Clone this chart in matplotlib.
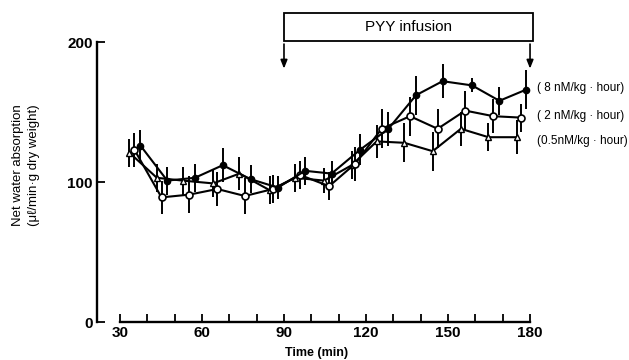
import numpy as np
import matplotlib.pyplot as plt

plt.rcParams['font.family'] = ['Liberation Sans', 'DejaVu Sans']

# 8 nM/kg.hour (filled circles)
t_8 = [37.5, 47.3, 57.4, 67.6, 77.8, 87.8, 97.7, 107.4, 117.8, 128.2, 138.3, 148.0, 158.8, 168.8, 178.6]
y_8 = [126, 101, 103, 112, 102, 96, 108, 106, 123, 138, 162, 172, 169, 158, 166]
e_8 = [11, 10, 10, 12, 10, 8, 10, 9, 11, 12, 14, 12, 5, 10, 14]

# 2 nM/kg.hour (open circles)
t_2 = [35.3, 45.2, 55.4, 65.6, 75.7, 86.0, 95.9, 106.5, 116.0, 125.7, 136.1, 146.2, 156.3, 166.6, 176.6]
y_2 = [123, 89, 91, 95, 90, 95, 105, 97, 113, 138, 147, 138, 151, 147, 146]
e_2 = [12, 12, 13, 12, 13, 10, 10, 10, 12, 14, 14, 14, 14, 12, 10]

# 0.5 nM/kg.hour (open triangles)
t_05 = [33.4, 43.5, 52.9, 64.1, 73.7, 84.9, 94.0, 104.7, 114.8, 123.9, 134.0, 144.4, 154.7, 164.8, 175.2]
y_05 = [121, 103, 101, 99, 106, 94, 103, 101, 112, 129, 128, 122, 138, 132, 132]
e_05 = [10, 10, 10, 10, 12, 10, 10, 9, 10, 12, 14, 14, 12, 10, 12]

dose_labels = ['( 8 nM/kg · hour)', '( 2 nM/kg · hour)', '(0.5nM/kg · hour)']
infusion = (90, 180)

fig = plt.figure(figsize=(6.29, 3.6), dpi=100)
ax = fig.add_axes([97/629, 38/360, 438.5/629, 313.6/360])

kw = dict(color='black', lw=1.5, elinewidth=1.4, capsize=0)
ax.errorbar(t_05, y_05, yerr=e_05, marker='^', ms=4, mfc='white', mec='black', mew=1.0, **kw)
ax.errorbar(t_2, y_2, yerr=e_2, marker='o', ms=5, mfc='white', mec='black', mew=1.2, **kw)
ax.errorbar(t_8, y_8, yerr=e_8, marker='o', ms=4.5, mfc='black', mec='black', **kw)

ax.set_xlim(21.6, 182)
ax.set_ylim(0, 224)
for s in ['top', 'right']:
    ax.spines[s].set_visible(False)
ax.spines['left'].set_bounds(0, 200)
ax.spines['bottom'].set_bounds(30, 180)
ax.spines['left'].set_linewidth(1.7)
ax.spines['bottom'].set_linewidth(1.7)

ax.set_yticks([0, 100, 200])
ax.set_xticks(np.arange(30, 181, 30))
ax.set_xticks(np.arange(30, 181, 10), minor=True)
ax.tick_params(axis='both', which='both', direction='in', length=6, width=1.3, labelsize=11)
ax.tick_params(axis='y', pad=3)
ax.tick_params(axis='x', pad=3)
for lab in ax.get_xticklabels() + ax.get_yticklabels():
    lab.set_fontweight('bold')

ax.set_xlabel('Time (min)', fontsize=9, fontweight='bold', labelpad=5)
ax.set_ylabel('Net water absorption\n(μℓ/min·g dry weight)', fontsize=9.5, labelpad=20, linespacing=1.4)

# dose labels next to last points
ax.text(182.5, y_8[-1] + 1, dose_labels[0], fontsize=8.5, va='center', ha='left', clip_on=False)
ax.text(182.5, y_2[-1] + 1, dose_labels[1], fontsize=8.5, va='center', ha='left', clip_on=False)
ax.text(182.5, y_05[-1] - 3, dose_labels[2], fontsize=8.5, va='center', ha='left', clip_on=False)

# infusion box with arrows
x0, x1 = infusion
ax.add_patch(plt.Rectangle((x0, 200.5), x1 + 1 - x0, 20.5, fill=False, lw=1.3, clip_on=False))
ax.text((x0 + x1 + 1) / 2, 210.5, 'PYY infusion', fontsize=11, ha='center', va='center')
for xa in (x0, x1):
    ax.annotate('', xy=(xa, 179), xytext=(xa, 200.5),
                arrowprops=dict(arrowstyle='-|>,head_length=0.5,head_width=0.2', color='black', lw=1.2),
                annotation_clip=False)

fig.savefig('out.png', dpi=100)
